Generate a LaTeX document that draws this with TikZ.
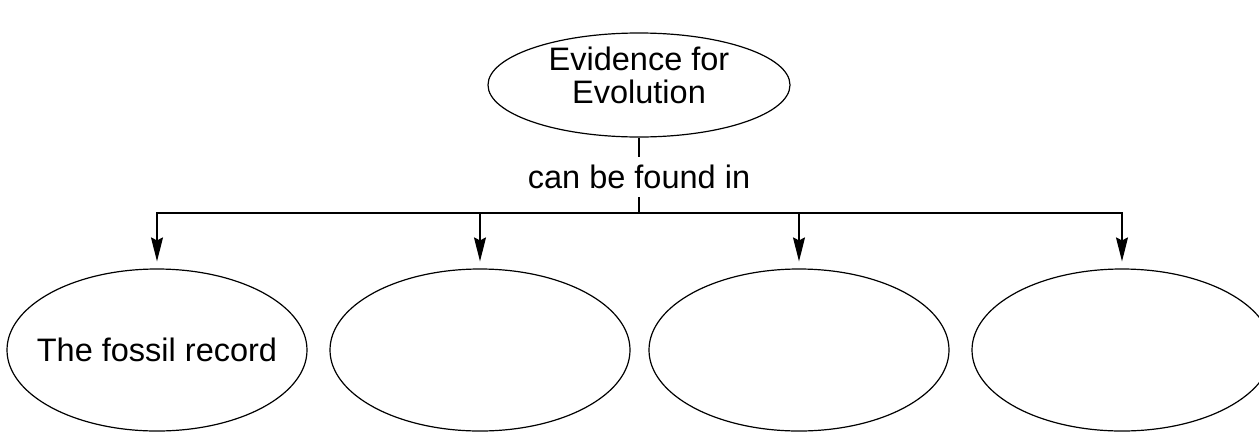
\documentclass[tikz,border=0pt]{standalone}
\usepackage{fontspec}
\setmainfont{Liberation Sans}
\usetikzlibrary{shapes.geometric,arrows.meta}
\begin{document}
\begin{tikzpicture}[x=1pt,y=-1pt,
  every node/.style={font=\fontsize{32.5}{33}\selectfont},
  oval/.style={draw,ellipse,line width=1.2pt,inner sep=0pt},
  leaf/.style={oval,minimum width=300pt,minimum height=162pt},
  conn/.style={line width=1.2pt},
  arr/.style={conn,-{Stealth[length=24pt,width=12pt,inset=3pt]},shorten >=7pt}]
\fill[white] (0,0) rectangle (1259,432);
\useasboundingbox (0,0) rectangle (1259,432);
\begin{scope}
\clip (0,0) rectangle (1259,432);
\node[oval,minimum width=302pt,minimum height=104pt] (top) at (639,85) {};
\node[align=center,inner sep=0pt] (toptext) at (639,75) {Evidence for\\Evolution};
\node[inner sep=0pt,minimum height=40pt] (lab) at (639,177) {can be found in};
\coordinate (junc) at (639,213);
\node[leaf] (e1) at (157,350) {};
\node[inner sep=0pt] (e1text) at (e1.center) {The fossil record};
\node[leaf] (e2) at (480,350) {};
\node[leaf] (e3) at (799,350) {};
\node[leaf] (e4) at (1122,350) {};
\draw[conn] (top.south) -- (lab.north);
\draw[conn] (lab.south) -- (junc);
\draw[arr] (junc) -| (e1.north);
\draw[arr] (junc) -| (e2.north);
\draw[arr] (junc) -| (e3.north);
\draw[arr] (junc) -| (e4.north);
\end{scope}
\end{tikzpicture}
\end{document}
